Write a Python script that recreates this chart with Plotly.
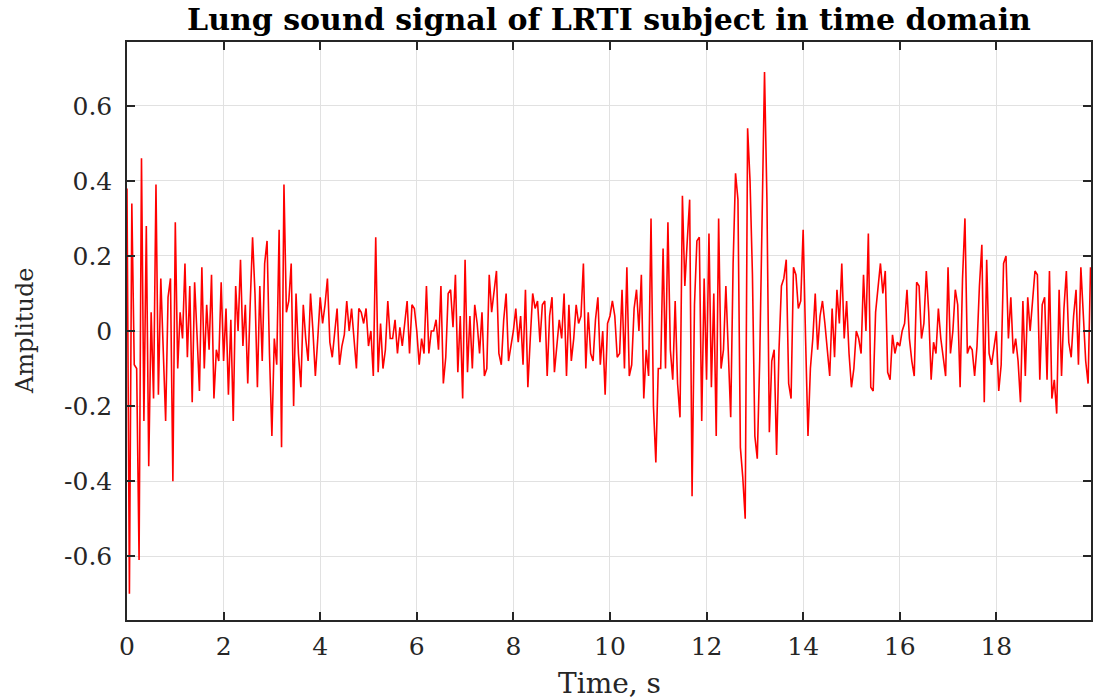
import numpy as np
import plotly.graph_objects as go

# ---------------- data ----------------
sample_step_s = 0.05  # spacing of the read-off samples, seconds

amp_00_05 = [
    0.38, -0.70, 0.34, -0.09, -0.10, -0.61, 0.46, -0.24, 0.28, -0.36,
    0.05, -0.18, 0.39, -0.17, 0.14, -0.08, -0.24, 0.09, 0.14, -0.40,
    0.29, -0.10, 0.05, -0.02, 0.18, -0.07, 0.12, -0.19, 0.13, -0.01,
    -0.16, 0.17, -0.10, 0.07, -0.05, 0.15, -0.18, -0.05, -0.08, 0.13,
    -0.08, 0.06, -0.17, 0.03, -0.24, 0.12, 0.00, 0.19, -0.04, 0.07,
    -0.14, 0.07, 0.25, 0.10, -0.15, 0.12, -0.08, 0.18, 0.24, -0.06,
    -0.28, -0.02, -0.09, 0.27, -0.31, 0.39, 0.05, 0.08, 0.18, -0.20,
    0.10, -0.06, -0.15, 0.07, -0.02, -0.08, 0.10, 0.00, -0.12, -0.02,
    0.09, 0.02, 0.07, 0.14, -0.03, -0.07, 0.00, 0.06, -0.09, -0.04,
    -0.01, 0.08, 0.00, 0.06, -0.02, -0.10, 0.06, 0.05, 0.02, 0.06,
]
amp_05_10 = [
    -0.04, 0.00, -0.12, 0.25, -0.11, 0.02, -0.10, -0.05, 0.08, -0.02,
    -0.02, 0.03, -0.06, 0.01, -0.04, 0.03, 0.08, -0.06, 0.07, 0.06,
    0.00, -0.09, -0.02, -0.06, 0.12, -0.06, 0.00, 0.00, 0.03, -0.05,
    0.12, -0.14, -0.07, 0.10, 0.11, 0.01, 0.15, -0.11, 0.04, -0.18,
    0.19, -0.11, 0.04, -0.10, 0.07, 0.02, -0.06, 0.05, -0.12, -0.10,
    0.15, 0.05, 0.11, 0.16, -0.06, -0.09, 0.03, 0.10, -0.08, -0.04,
    0.00, 0.06, -0.03, 0.04, -0.09, 0.11, -0.15, -0.02, 0.10, 0.06,
    0.08, -0.03, 0.07, 0.08, -0.12, 0.04, 0.09, -0.11, -0.04, 0.03,
    -0.02, 0.10, -0.12, 0.07, -0.08, -0.02, 0.07, 0.02, 0.04, 0.18,
    -0.10, 0.05, -0.06, -0.08, 0.03, 0.09, -0.09, 0.00, -0.17, 0.02,
]
amp_10_15 = [
    0.04, 0.08, 0.04, -0.07, -0.06, 0.11, -0.10, 0.17, -0.12, -0.09,
    0.06, 0.11, 0.00, 0.15, -0.18, -0.05, -0.12, 0.30, -0.20, -0.35,
    -0.10, -0.10, 0.22, -0.10, 0.29, -0.05, -0.13, 0.08, -0.14, -0.23,
    0.36, 0.12, 0.24, 0.35, -0.44, 0.07, 0.24, 0.25, -0.24, 0.14,
    -0.13, 0.26, -0.15, 0.10, -0.28, 0.30, -0.10, -0.05, 0.12, -0.04,
    -0.23, 0.18, 0.42, 0.35, -0.31, -0.39, -0.50, 0.54, 0.40, 0.15,
    -0.28, -0.34, -0.08, 0.30, 0.69, 0.35, -0.27, -0.08, -0.05, -0.33,
    -0.05, 0.12, 0.14, 0.19, -0.14, -0.18, 0.17, 0.15, 0.06, 0.08,
    0.27, -0.02, -0.28, -0.10, -0.02, 0.10, -0.05, 0.04, 0.08, 0.02,
    -0.05, -0.12, 0.06, -0.07, 0.11, 0.02, 0.18, -0.02, 0.08, -0.06,
]
amp_15_20 = [
    -0.15, -0.10, 0.00, -0.02, -0.06, 0.15, 0.00, 0.26, -0.15, -0.16,
    0.05, 0.12, 0.18, 0.10, 0.16, -0.11, -0.13, -0.01, -0.06, -0.03,
    -0.04, 0.00, 0.02, 0.11, -0.02, -0.08, -0.12, 0.13, 0.12, -0.02,
    0.02, 0.16, 0.05, -0.13, -0.03, -0.06, 0.06, -0.02, -0.07, -0.12,
    0.17, -0.06, 0.00, 0.11, 0.07, -0.15, 0.14, 0.30, -0.06, -0.04,
    -0.05, -0.12, -0.04, 0.12, 0.23, -0.19, 0.19, -0.06, -0.09, -0.04,
    0.00, -0.16, -0.09, 0.18, 0.20, -0.02, 0.09, -0.06, -0.02, -0.08,
    -0.19, 0.08, -0.12, 0.09, 0.00, 0.08, 0.16, 0.15, -0.13, 0.07,
    0.09, -0.13, 0.16, -0.18, -0.13, -0.22, 0.11, -0.12, 0.06, 0.16,
    -0.03, -0.07, 0.04, 0.11, -0.09, 0.17, 0.06, -0.08, -0.14, 0.17,
]

x_tick_vals = [0, 2, 4, 6, 8, 10, 12, 14, 16, 18]
x_tick_text = ["0", "2", "4", "6", "8", "10", "12", "14", "16", "18"]
y_tick_vals = [-0.6, -0.4, -0.2, 0, 0.2, 0.4, 0.6]
y_tick_text = ["-0.6", "-0.4", "-0.2", "0", "0.2", "0.4", "0.6"]

title_text = "Lung sound signal of LRTI subject in time domain"
x_title = "Time, s"
y_title = "Amplitude"

# ---------------- figure ----------------
amplitude = np.array(amp_00_05 + amp_05_10 + amp_10_15 + amp_15_20)
time_s = np.arange(len(amplitude)) * sample_step_s

FONT = "DejaVu Serif"
AX = "#262626"

fig = go.Figure()
fig.add_trace(go.Scatter(
    x=time_s, y=amplitude, mode="lines",
    line=dict(color="#ff0000", width=1.6),
    hoverinfo="skip",
))

axis_common = dict(
    showline=True, linecolor=AX, linewidth=1.5, mirror="ticks",
    ticks="inside", ticklen=8, tickwidth=1.5, tickcolor=AX,
    showgrid=True, gridcolor="#e1e1e1", gridwidth=1,
    zeroline=False,
    tickfont=dict(family=FONT, size=25, color=AX),
)

fig.update_layout(
    width=1096, height=700,
    margin=dict(l=127, r=3, t=42, b=80),
    paper_bgcolor="white", plot_bgcolor="white",
    showlegend=False,
    title=dict(
        text=title_text,
        font=dict(family=FONT, size=30, color="black", weight=700),
        xref="paper", x=0.5, xanchor="center",
        yref="container", y=1 - 19 / 700, yanchor="middle",
    ),
    xaxis=dict(range=[0, 19.96], tickvals=x_tick_vals, ticktext=x_tick_text,
               ticklabelstandoff=3, **axis_common),
    yaxis=dict(range=[-0.77, 0.77], tickvals=y_tick_vals, ticktext=y_tick_text,
               ticklabelstandoff=8, **axis_common),
    annotations=[
        dict(text=x_title, xref="paper", yref="paper", x=0.5, y=0,
             xanchor="center", yanchor="middle", yshift=-63, showarrow=False,
             font=dict(family=FONT, size=28, color=AX)),
        dict(text=y_title, xref="paper", yref="paper", x=0, y=0.5,
             xanchor="center", yanchor="middle", xshift=-102, textangle=-90,
             showarrow=False, font=dict(family=FONT, size=24, color=AX)),
    ],
)

fig.write_html("out.html")
